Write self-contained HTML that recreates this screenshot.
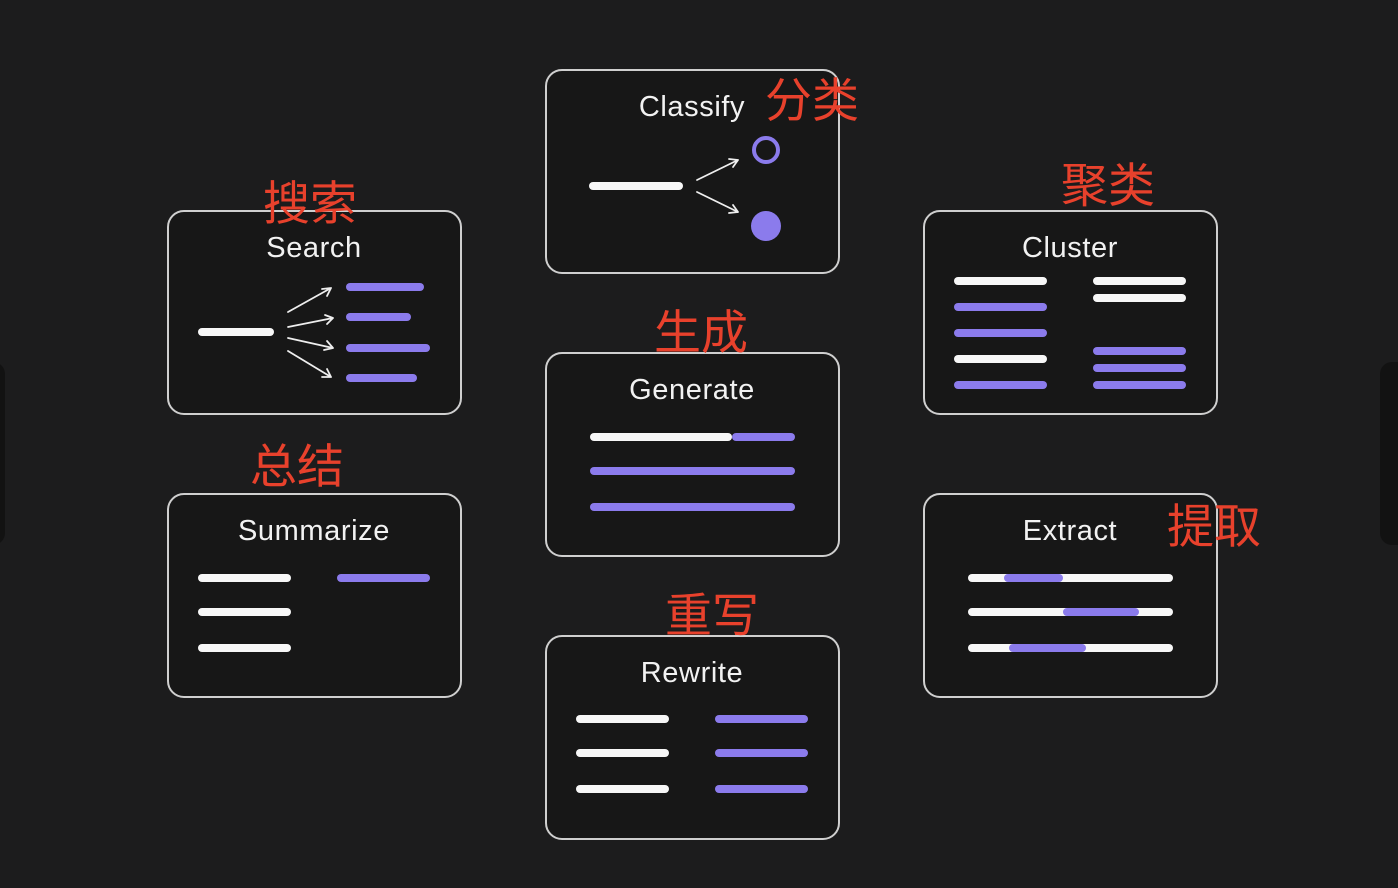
<!DOCTYPE html>
<html><head><meta charset="utf-8"><style>
html,body{margin:0;padding:0;background:#1c1c1d;}
svg{display:block}
.t{font-family:"Liberation Sans",sans-serif;font-size:29px;letter-spacing:0.6px;fill:#f2f2f2;text-anchor:middle}
.c{font-family:"Liberation Sans","Noto Sans CJK SC",sans-serif;font-size:47px;fill:#e8412c}
.b{fill:#171717;stroke:#cfcfcf;stroke-width:2}
.w{stroke:#f7f7f7;stroke-width:8;stroke-linecap:round}
.p{stroke:#8b7bec;stroke-width:8;stroke-linecap:round}
.a{stroke:#eee;stroke-width:1.8;fill:none;stroke-linecap:round;stroke-linejoin:round}
</style></head><body>
<svg width="1398" height="888" xmlns="http://www.w3.org/2000/svg">
<rect width="1398" height="888" fill="#1c1c1d"/>
<rect x="1380" y="362" width="40" height="183" rx="12" fill="#121212"/>
<rect x="-30" y="362" width="35" height="183" rx="12" fill="#121212"/>
<rect class="b" x="168" y="211" width="293" height="203" rx="16"/>
<rect class="b" x="546" y="70" width="293" height="203" rx="16"/>
<rect class="b" x="924" y="211" width="293" height="203" rx="16"/>
<rect class="b" x="168" y="494" width="293" height="203" rx="16"/>
<rect class="b" x="546" y="353" width="293" height="203" rx="16"/>
<rect class="b" x="924" y="494" width="293" height="203" rx="16"/>
<rect class="b" x="546" y="636" width="293" height="203" rx="16"/>
<text class="t" x="314" y="257">Search</text>
<text class="t" x="692" y="116">Classify</text>
<text class="t" x="1070" y="257">Cluster</text>
<text class="t" x="314" y="540">Summarize</text>
<text class="t" x="692" y="399">Generate</text>
<text class="t" x="1070" y="540">Extract</text>
<text class="t" x="692" y="682">Rewrite</text>
<line class="w" x1="202" y1="332" x2="270" y2="332"/>
<line class="p" x1="350" y1="287" x2="420" y2="287"/>
<line class="p" x1="350" y1="317" x2="407" y2="317"/>
<line class="p" x1="350" y1="348" x2="426" y2="348"/>
<line class="p" x1="350" y1="378" x2="413" y2="378"/>
<path class="a" d="M288 312L331 288M322 289L331 288L327 296"/>
<path class="a" d="M288 327L333 318M325 315L333 318L327 324"/>
<path class="a" d="M288 338L333 348M327 341L333 348L324 350"/>
<path class="a" d="M288 351L331 377M327 369L331 377L322 377"/>
<line class="w" x1="593" y1="186" x2="679" y2="186"/>
<path class="a" d="M697 180L738 160M729 159L738 160L733 167"/>
<path class="a" d="M697 192L738 212M733 205L738 212L729 213"/>
<circle cx="766" cy="150" r="12" fill="none" stroke="#8b7bec" stroke-width="4"/>
<circle cx="766" cy="226" r="15" fill="#8b7bec"/>
<line class="w" x1="958" y1="281" x2="1043" y2="281"/>
<line class="p" x1="958" y1="307" x2="1043" y2="307"/>
<line class="p" x1="958" y1="333" x2="1043" y2="333"/>
<line class="w" x1="958" y1="359" x2="1043" y2="359"/>
<line class="p" x1="958" y1="385" x2="1043" y2="385"/>
<line class="w" x1="1097" y1="281" x2="1182" y2="281"/>
<line class="w" x1="1097" y1="298" x2="1182" y2="298"/>
<line class="p" x1="1097" y1="351" x2="1182" y2="351"/>
<line class="p" x1="1097" y1="368" x2="1182" y2="368"/>
<line class="p" x1="1097" y1="385" x2="1182" y2="385"/>
<line class="w" x1="202" y1="578" x2="287" y2="578"/>
<line class="w" x1="202" y1="612" x2="287" y2="612"/>
<line class="w" x1="202" y1="648" x2="287" y2="648"/>
<line class="p" x1="341" y1="578" x2="426" y2="578"/>
<line class="w" x1="594" y1="437" x2="728" y2="437"/>
<line class="p" x1="736" y1="437" x2="791" y2="437"/>
<line class="p" x1="594" y1="471" x2="791" y2="471"/>
<line class="p" x1="594" y1="507" x2="791" y2="507"/>
<line class="w" x1="972" y1="578" x2="1169" y2="578"/>
<line class="p" x1="1008" y1="578" x2="1059" y2="578"/>
<line class="w" x1="972" y1="612" x2="1169" y2="612"/>
<line class="p" x1="1067" y1="612" x2="1135" y2="612"/>
<line class="w" x1="972" y1="648" x2="1169" y2="648"/>
<line class="p" x1="1013" y1="648" x2="1082" y2="648"/>
<line class="w" x1="580" y1="719" x2="665" y2="719"/>
<line class="w" x1="580" y1="753" x2="665" y2="753"/>
<line class="w" x1="580" y1="789" x2="665" y2="789"/>
<line class="p" x1="719" y1="719" x2="804" y2="719"/>
<line class="p" x1="719" y1="753" x2="804" y2="753"/>
<line class="p" x1="719" y1="789" x2="804" y2="789"/>
<text class="c" x="263" y="220">搜索</text>
<text class="c" x="765" y="117">分类</text>
<text class="c" x="1061" y="202">聚类</text>
<text class="c" x="654" y="349">生成</text>
<text class="c" x="250" y="483">总结</text>
<text class="c" x="1167" y="543">提取</text>
<text class="c" x="665" y="632">重写</text>
</svg>
</body></html>
